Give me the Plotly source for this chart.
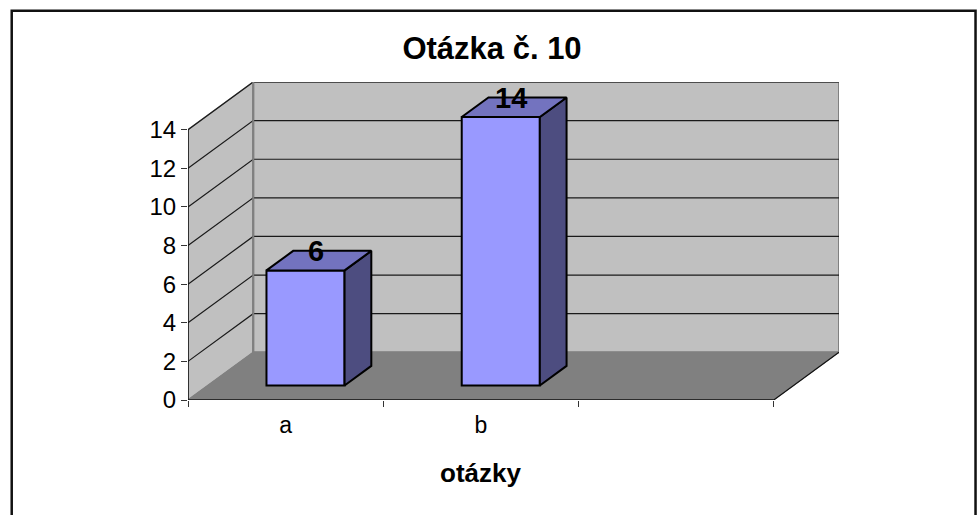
import plotly.graph_objects as go

title = "Otázka č. 10"
x_title = "otázky"
categories = ["a", "b"]
values = [6, 14]
y_ticks = list(range(0, 15, 2))
category_slots = 3
y_max = 14

# projection of the oblique 3D box, in axis units
depth_x = 0.334
depth_y = 2.47
bar_width = 0.40
bar_front = 0.305      # bar front plane, fraction of depth
bar_back = 0.715       # bar back plane, fraction of depth
bar_scale = 0.993

WALL, FLOOR, EDGE = "#C0C0C0", "#808080", "#808080"
FRONT, SIDE, TOP = "#9999FF", "#4D4D80", "#7373BF"

# pixel frame of the plot area
L, R, T, B = 187.5, 839.3, 82.3, 400.0
W, H = 979, 515


def poly(pts):
    return "M" + " L".join(f"{a},{b}" for a, b in pts) + " Z"


shapes = []
sx, sy = category_slots, y_max
# left wall, back wall, floor
shapes.append(dict(type="path", path=poly([(0, 0), (0, sy), (depth_x, sy + depth_y), (depth_x, depth_y)]),
                   fillcolor=WALL, line=dict(color=EDGE, width=1.5), layer="below"))
shapes.append(dict(type="path", path=poly([(depth_x, depth_y), (depth_x, sy + depth_y), (sx + depth_x, sy + depth_y), (sx + depth_x, depth_y)]),
                   fillcolor=WALL, line=dict(color=EDGE, width=2), layer="below"))
shapes.append(dict(type="path", path=poly([(0, 0), (sx, 0), (sx + depth_x, depth_y), (depth_x, depth_y)]),
                   fillcolor=FLOOR, line=dict(color=FLOOR, width=1), layer="below"))
# gridlines
for t in y_ticks[1:]:
    shapes.append(dict(type="path", path=f"M0,{t} L{depth_x},{t + depth_y} L{sx + depth_x},{t + depth_y}",
                       line=dict(color="#1A1A1A", width=1.2), layer="below"))
# wall corner and axis edges
shapes.append(dict(type="line", x0=depth_x, x1=depth_x, y0=depth_y, y1=sy + depth_y,
                   line=dict(color=EDGE, width=2), layer="below"))
shapes.append(dict(type="line", x0=0, x1=0, y0=0, y1=sy, line=dict(color="#111111", width=1.5), layer="below"))
shapes.append(dict(type="line", x0=0, x1=sx, y0=0, y1=0, line=dict(color="#111111", width=1.5), layer="below"))
shapes.append(dict(type="line", x0=sx, x1=sx + depth_x, y0=0, y1=depth_y, line=dict(color="#111111", width=1.2), layer="below"))
# chart outer border (open at the bottom of the page)
shapes.append(dict(type="path", xref="paper", yref="paper",
                   path=poly([((11 - L) / (R - L), (B - 560) / (B - T)),
                              ((11 - L) / (R - L), (B - 11) / (B - T)),
                              ((976 - L) / (R - L), (B - 11) / (B - T)),
                              ((976 - L) / (R - L), (B - 560) / (B - T))]),
                   line=dict(color="#111111", width=2.5), layer="above"))

fig = go.Figure()

bar_x = [i + 0.5 + bar_front * depth_x for i in range(len(values))]
base_y = bar_front * depth_y
heights = [v * bar_scale for v in values]
fig.add_trace(go.Bar(x=bar_x, y=heights, base=base_y, width=bar_width,
                     marker=dict(color=FRONT, line=dict(color="black", width=2)), hoverinfo="skip"))

dx = (bar_back - bar_front) * depth_x
dy = (bar_back - bar_front) * depth_y
side_x, side_y, top_x, top_y = [], [], [], []
for cx, h in zip(bar_x, heights):
    xr = cx + bar_width / 2
    xl = cx - bar_width / 2
    side_x += [xr, xr + dx, xr + dx, xr, xr, None]
    side_y += [base_y, base_y + dy, base_y + h + dy, base_y + h, base_y, None]
    top_x += [xl, xl + dx, xr + dx, xr, xl, None]
    top_y += [base_y + h, base_y + h + dy, base_y + h + dy, base_y + h, base_y + h, None]
for xs, ys, c in [(side_x, side_y, SIDE), (top_x, top_y, TOP)]:
    fig.add_trace(go.Scatter(x=xs, y=ys, mode="lines", fill="toself", fillcolor=c,
                             line=dict(color="black", width=2), hoverinfo="skip"))

fig.add_trace(go.Scatter(x=[c + dx * 0.39 for c in bar_x],
                         y=[base_y + h + 0.85 for h in heights],
                         mode="text", text=[str(v) for v in values], textposition="middle center",
                         textfont=dict(family="Liberation Sans", size=29, color="black", weight="bold"),
                         cliponaxis=False, hoverinfo="skip"))

fig.update_layout(
    width=W, height=H, autosize=False, showlegend=False,
    paper_bgcolor="white", plot_bgcolor="rgba(0,0,0,0)",
    margin=dict(l=L, r=W - R, t=T, b=H - B, pad=0),
    shapes=shapes,
    font=dict(family="Liberation Sans", color="black"),
    title=dict(text=f"<b>{title}</b>", x=492 / W, y=1 - 48 / H, xanchor="center", yanchor="middle",
               font=dict(size=31)),
    annotations=[dict(text=f"<b>{x_title}</b>", xref="x", yref="paper", x=sx / 2,
                      y=(B - 473) / (B - T), yanchor="middle", showarrow=False, font=dict(size=26))],
    xaxis=dict(range=[0, sx + depth_x], showgrid=False, zeroline=False, showline=False,
               tickmode="array", tickvals=[i + 0.5 for i in range(len(categories))], ticktext=categories,
               ticks="", ticklabelstandoff=9, tickfont=dict(size=23),
               minor=dict(tickmode="array", tickvals=list(range(sx + 1)), ticks="outside",
                          ticklen=6, tickcolor="#333333", tickwidth=1, showgrid=False)),
    yaxis=dict(range=[0, sy + depth_y], showgrid=False, zeroline=False, showline=False,
               tickmode="array", tickvals=y_ticks, ticks="outside", ticklen=6,
               tickcolor="#333333", tickwidth=1, tickfont=dict(size=24)),
)

fig.write_html("out.html", config={"displayModeBar": False},
               post_script="document.body.style.margin='0';document.body.style.overflow='hidden';")
